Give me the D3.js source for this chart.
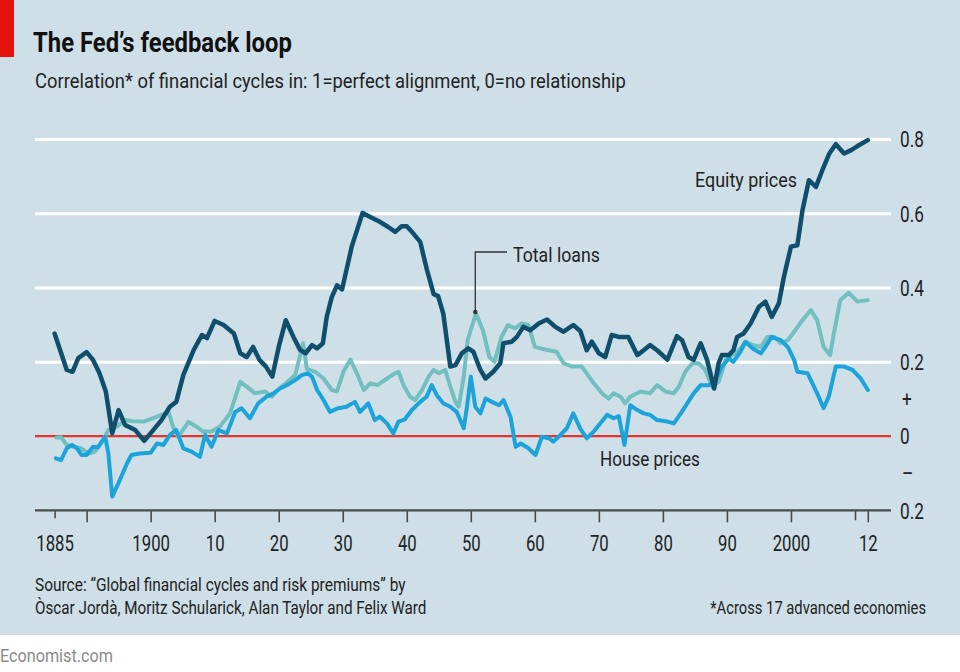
<!DOCTYPE html>
<html>
<head>
<meta charset="utf-8">
<script src="https://cdn.jsdelivr.net/npm/d3@7"></script>
<style>
  html, body { margin: 0; padding: 0; background: #ffffff; }
  svg { display: block; }
</style>
</head>
<body>
<svg id="chart" width="960" height="672"></svg>
<script>
// ---- Data ----
const equityPrices = [[1885,0.276],[1886.9,0.178],[1887.8,0.173],[1888.7,0.21],[1890,0.226],[1891,0.205],[1892,0.17],[1893,0.12],[1894,0.008],[1895,0.07],[1896,0.03],[1897.6,0.016],[1899,-0.013],[1900.4,0.016],[1901.7,0.043],[1903,0.079],[1904,0.092],[1905.1,0.164],[1906.7,0.231],[1908,0.272],[1908.8,0.264],[1910,0.31],[1911.4,0.299],[1913,0.276],[1914,0.223],[1915,0.213],[1916,0.24],[1917,0.205],[1918,0.187],[1919,0.16],[1920,0.24],[1921.1,0.312],[1922.3,0.267],[1923.3,0.233],[1924.2,0.223],[1925.2,0.245],[1926,0.236],[1926.9,0.25],[1927.5,0.321],[1928.3,0.375],[1929.1,0.406],[1929.9,0.395],[1931.4,0.51],[1933.1,0.601],[1934.3,0.59],[1935.8,0.577],[1937.1,0.563],[1938.2,0.55],[1939.2,0.565],[1940,0.565],[1941,0.546],[1942.1,0.523],[1943.1,0.451],[1944.2,0.382],[1944.9,0.377],[1945.7,0.33],[1946.8,0.187],[1947.6,0.191],[1948.6,0.223],[1949.6,0.236],[1950.4,0.227],[1951.5,0.178],[1952.3,0.155],[1953.5,0.173],[1954.6,0.196],[1955.1,0.25],[1956.4,0.254],[1957.2,0.267],[1958.2,0.294],[1959.3,0.285],[1960.6,0.303],[1961.9,0.314],[1963.2,0.294],[1964.5,0.281],[1966,0.299],[1967.1,0.283],[1968.1,0.231],[1968.9,0.254],[1970,0.223],[1971,0.213],[1972,0.272],[1973.1,0.267],[1974.6,0.267],[1976,0.218],[1977,0.231],[1978,0.245],[1979.1,0.231],[1980.7,0.206],[1982.2,0.269],[1983,0.258],[1984,0.213],[1984.8,0.205],[1985.9,0.25],[1986.9,0.205],[1988,0.128],[1988.7,0.196],[1989.2,0.218],[1990.3,0.218],[1991,0.231],[1991.6,0.267],[1992.6,0.276],[1993.7,0.303],[1995,0.348],[1996,0.362],[1997,0.321],[1998.1,0.357],[1998.9,0.429],[2000,0.51],[2001,0.514],[2001.8,0.608],[2002.8,0.689],[2003.9,0.671],[2004.9,0.716],[2006,0.761],[2007,0.786],[2008.3,0.761],[2009.4,0.77],[2010.4,0.781],[2012,0.797]];

const totalLoans = [[1885.3,-0.004],[1886,-0.003],[1886.9,-0.024],[1888,-0.029],[1889,-0.032],[1890.3,-0.047],[1891.3,-0.042],[1892.4,-0.015],[1893.4,0.016],[1894.7,0.025],[1896,0.043],[1897.3,0.04],[1898.9,0.039],[1900.4,0.048],[1901.7,0.057],[1902.8,0.065],[1903.5,0.025],[1904.3,-0.002],[1905.9,0.038],[1907.2,0.025],[1908.2,0.012],[1909.5,0.012],[1910.8,0.025],[1912.4,0.061],[1914,0.146],[1915,0.133],[1916.3,0.115],[1917.9,0.12],[1918.9,0.106],[1920.2,0.13],[1921.3,0.145],[1922.6,0.165],[1923.8,0.25],[1924.4,0.18],[1925.7,0.173],[1927,0.155],[1928.3,0.124],[1929.1,0.12],[1930.1,0.173],[1931.2,0.206],[1932.2,0.169],[1933.3,0.124],[1934.3,0.142],[1935.4,0.137],[1936.6,0.151],[1937.7,0.164],[1938.7,0.173],[1939.5,0.137],[1940.5,0.106],[1941.3,0.097],[1942.4,0.124],[1943.4,0.16],[1944.2,0.178],[1945,0.169],[1946,0.178],[1946.8,0.133],[1947.6,0.092],[1948.1,0.079],[1948.9,0.16],[1949.5,0.258],[1950.8,0.33],[1951.9,0.285],[1952.9,0.213],[1953.7,0.2],[1954.8,0.267],[1955.8,0.299],[1956.9,0.29],[1957.9,0.303],[1959,0.299],[1960,0.24],[1961.6,0.233],[1963.4,0.227],[1964.5,0.196],[1965.8,0.187],[1967.3,0.187],[1968.1,0.169],[1969.2,0.142],[1970.5,0.115],[1971.5,0.101],[1972.3,0.115],[1973.4,0.106],[1974.1,0.088],[1974.9,0.106],[1976.5,0.12],[1978,0.115],[1979.1,0.137],[1980.4,0.12],[1981.7,0.115],[1982.5,0.133],[1983.5,0.173],[1984.6,0.196],[1985.6,0.196],[1986.6,0.178],[1987.7,0.133],[1988.7,0.146],[1989.8,0.205],[1990.8,0.218],[1991.9,0.231],[1992.9,0.254],[1994,0.245],[1995.3,0.24],[1996.3,0.267],[1997.4,0.267],[1998.4,0.25],[1999.5,0.258],[2000.5,0.281],[2001.8,0.312],[2003.1,0.339],[2004.1,0.312],[2005.1,0.24],[2006.1,0.218],[2006.7,0.276],[2007.7,0.366],[2009,0.386],[2010.4,0.362],[2012,0.366]];

const housePrices = [[1885.2,-0.06],[1886,-0.065],[1886.9,-0.033],[1887.7,-0.024],[1888.5,-0.033],[1889.2,-0.051],[1890,-0.051],[1891,-0.029],[1891.8,-0.03],[1892.9,-0.002],[1893.4,-0.047],[1894,-0.163],[1895.2,-0.118],[1896.3,-0.074],[1897,-0.051],[1898.3,-0.047],[1900,-0.045],[1901,-0.02],[1902,-0.024],[1903,0.003],[1904,0.016],[1905.1,-0.033],[1906.4,-0.042],[1907.7,-0.056],[1908.5,0.003],[1909.5,-0.029],[1910.6,0.016],[1911.9,0.007],[1913.2,0.065],[1914.2,0.075],[1915.5,0.048],[1916.8,0.088],[1918.1,0.106],[1919.2,0.115],[1920.2,0.128],[1921.3,0.137],[1922.7,0.152],[1923.6,0.164],[1924.5,0.169],[1925.2,0.16],[1926,0.124],[1927,0.097],[1928,0.065],[1929.3,0.075],[1930.6,0.079],[1931.9,0.092],[1932.7,0.065],[1934,0.088],[1935,0.043],[1935.8,0.052],[1936.9,0.034],[1937.9,0.007],[1938.7,0.039],[1939.7,0.045],[1940.8,0.07],[1942.1,0.092],[1943.1,0.106],[1943.9,0.137],[1944.7,0.11],[1945.7,0.088],[1946.8,0.079],[1947.8,0.065],[1948.9,0.021],[1949.4,0.079],[1950,0.16],[1950.7,0.079],[1951.5,0.061],[1952.3,0.101],[1953.3,0.092],[1954.4,0.083],[1955.1,0.097],[1956.2,0.052],[1957,-0.029],[1957.8,-0.02],[1959,-0.033],[1960.1,-0.051],[1961.1,-0.002],[1962.2,-0.006],[1962.9,-0.015],[1964,0.003],[1965,0.021],[1966,0.061],[1967.1,0.02],[1968.1,-0.006],[1969.2,0.012],[1970.2,0.034],[1971.3,0.057],[1972.3,0.048],[1973.1,0.054],[1974,-0.024],[1974.9,0.083],[1976,0.07],[1977,0.061],[1978,0.057],[1979.1,0.043],[1980.7,0.039],[1981.7,0.034],[1982.8,0.061],[1983.8,0.088],[1984.8,0.115],[1985.9,0.137],[1987.2,0.137],[1988.2,0.151],[1989.2,0.187],[1990.3,0.209],[1991,0.2],[1992.1,0.227],[1992.9,0.254],[1994,0.236],[1995.3,0.223],[1996,0.24],[1997,0.267],[1998.4,0.258],[1999.5,0.24],[2000.5,0.205],[2001,0.173],[2002.6,0.169],[2004.1,0.115],[2005.1,0.075],[2005.9,0.106],[2007,0.187],[2008.3,0.187],[2009.6,0.178],[2010.9,0.155],[2012,0.124]];

const xTickYears = [1885, 1890, 1900, 1910, 1920, 1930, 1940, 1950, 1960, 1970, 1980, 1990, 2000, 2010, 2012];
const xTickLabels = {1885:"1885",1900:"1900",1910:"10",1920:"20",1930:"30",1940:"40",1950:"50",1960:"60",1970:"70",1980:"80",1990:"90",2000:"2000",2012:"12"};
const yGridValues = [0.2, 0.4, 0.6, 0.8];
const yTickValues = [0.8, 0.6, 0.4, 0.2, 0.1, 0, -0.1, -0.2];
const yTickLabels = {"0.8":"0.8","0.6":"0.6","0.4":"0.4","0.2":"0.2","0.1":"+","0":"0","-0.1":"–","-0.2":"0.2"};

// ---- Setup ----
const FONT = "Roboto,'Liberation Sans',sans-serif";
const W = 960, H = 672;
const svg = d3.select("#chart");

// condensed text: horizontally scaled so that it spans the given width
function fitText(x0, y0, str, size, width, opts = {}) {
  const anchor = opts.anchor || "start";
  const t = svg.append("text").attr("x", 0).attr("y", 0)
    .attr("font-family", FONT).attr("font-size", size)
    .attr("font-weight", opts.weight || "normal")
    .attr("fill", opts.fill || "#1a1a1a")
    .attr("text-anchor", anchor)
    .text(str);
  const natural = t.node().getComputedTextLength() || width;
  t.attr("transform", `translate(${x0},${y0}) scale(${width / natural},1)`);
  return t;
}

svg.append("rect").attr("x",0).attr("y",0).attr("width",W).attr("height",635).attr("fill","#cfdfe8");
svg.append("rect").attr("x",0).attr("y",635).attr("width",W).attr("height",H-635).attr("fill","#ffffff");
svg.append("rect").attr("x",0).attr("y",0).attr("width",14).attr("height",57).attr("fill","#e3120b");

fitText(33, 52, "The Fed’s feedback loop", 27, 259, {weight: "bold", fill: "#111"});
fitText(35, 88, "Correlation* of financial cycles in: 1=perfect alignment, 0=no relationship", 19.5, 591, {fill: "#222"});

const x = d3.scaleLinear().domain([1885, 2012]).range([54.6, 867.8]);
const y = d3.scaleLinear().domain([-0.2, 0.8]).range([510.3, 139]);
const plotLeft = 35, plotRight = 891;

// gridlines
const grid = svg.append("g").attr("transform", `translate(${plotLeft},0)`)
  .call(d3.axisRight(y).tickValues(yGridValues).tickSize(plotRight - plotLeft).tickFormat(""));
grid.select(".domain").remove();
grid.selectAll(".tick line").attr("stroke","#ffffff").attr("stroke-width",3);

// zero line
svg.append("line").attr("x1",plotLeft).attr("x2",plotRight).attr("y1",y(0)).attr("y2",y(0))
  .attr("stroke","#e0352b").attr("stroke-width",2.2);

// right-hand labels
const yAx = svg.append("g").attr("transform", `translate(${plotRight},0)`)
  .call(d3.axisRight(y).tickValues(yTickValues).tickSize(0)
    .tickFormat(d => yTickLabels[String(Math.round(d*10)/10)]));
yAx.select(".domain").remove();
yAx.selectAll(".tick text").attr("font-family",FONT).attr("font-size",21.5).attr("fill","#222")
  .attr("x", 0).attr("dy","0.36em")
  .attr("transform", d => `translate(${(d === 0.1 || d === -0.1) ? 11 : 9},0) scale(0.8,1)`);

// x axis
const xAx = svg.append("g").attr("transform", `translate(0,${y(-0.2)})`)
  .call(d3.axisBottom(x).tickValues(xTickYears).tickSizeInner(11).tickSizeOuter(0).tickPadding(14)
    .tickFormat(d => xTickLabels[d] || ""));
xAx.select(".domain").attr("d", `M${plotLeft},0H${plotRight}`).attr("stroke","#4a4a4a").attr("stroke-width",2.2);
xAx.selectAll(".tick line").attr("stroke","#4a4a4a").attr("stroke-width",1.6)
  .attr("y2", d => d === 1885 ? 8 : (d === 2010 ? 10 : 12));
xAx.selectAll(".tick text").attr("font-family",FONT).attr("font-size",22).attr("fill","#222")
  .attr("transform","scale(0.76,1)");

// lines
const line = d3.line().x(d => x(d[0])).y(d => y(d[1])).curve(d3.curveLinear);
const series = [
  {data: totalLoans, color: "#72bfc0", width: 4},
  {data: housePrices, color: "#1ba3da", width: 4},
  {data: equityPrices, color: "#0f4f6c", width: 4.5}
];
series.forEach(s => {
  svg.append("path").datum(s.data).attr("d", line).attr("fill","none")
    .attr("stroke", s.color).attr("stroke-width", s.width)
    .attr("stroke-linejoin","round").attr("stroke-linecap","round");
});

// annotations
fitText(695, 187, "Equity prices", 21, 102, {fill: "#222"});
fitText(600, 466, "House prices", 21, 100, {fill: "#222"});
fitText(513, 262, "Total loans", 21, 87, {fill: "#222"});
const lx = x(1950.7), ly = y(0.334);
svg.append("path").attr("d", `M${lx},${ly}V${252}H${507}`).attr("fill","none")
  .attr("stroke","#333").attr("stroke-width",1.3);
svg.append("circle").attr("cx",lx).attr("cy",ly).attr("r",2.2).attr("fill","#333");

// footer
fitText(35, 591, "Source: “Global financial cycles and risk premiums” by", 18, 371, {fill: "#222"});
fitText(35, 614, "Òscar Jordà, Moritz Schularick, Alan Taylor and Felix Ward", 18, 392, {fill: "#222"});
fitText(926, 614, "*Across 17 advanced economies", 18, 216, {fill: "#222", anchor: "end"});
fitText(0, 662, "Economist.com", 18, 113, {fill: "#8a8a8a"});
</script>
</body>
</html>
